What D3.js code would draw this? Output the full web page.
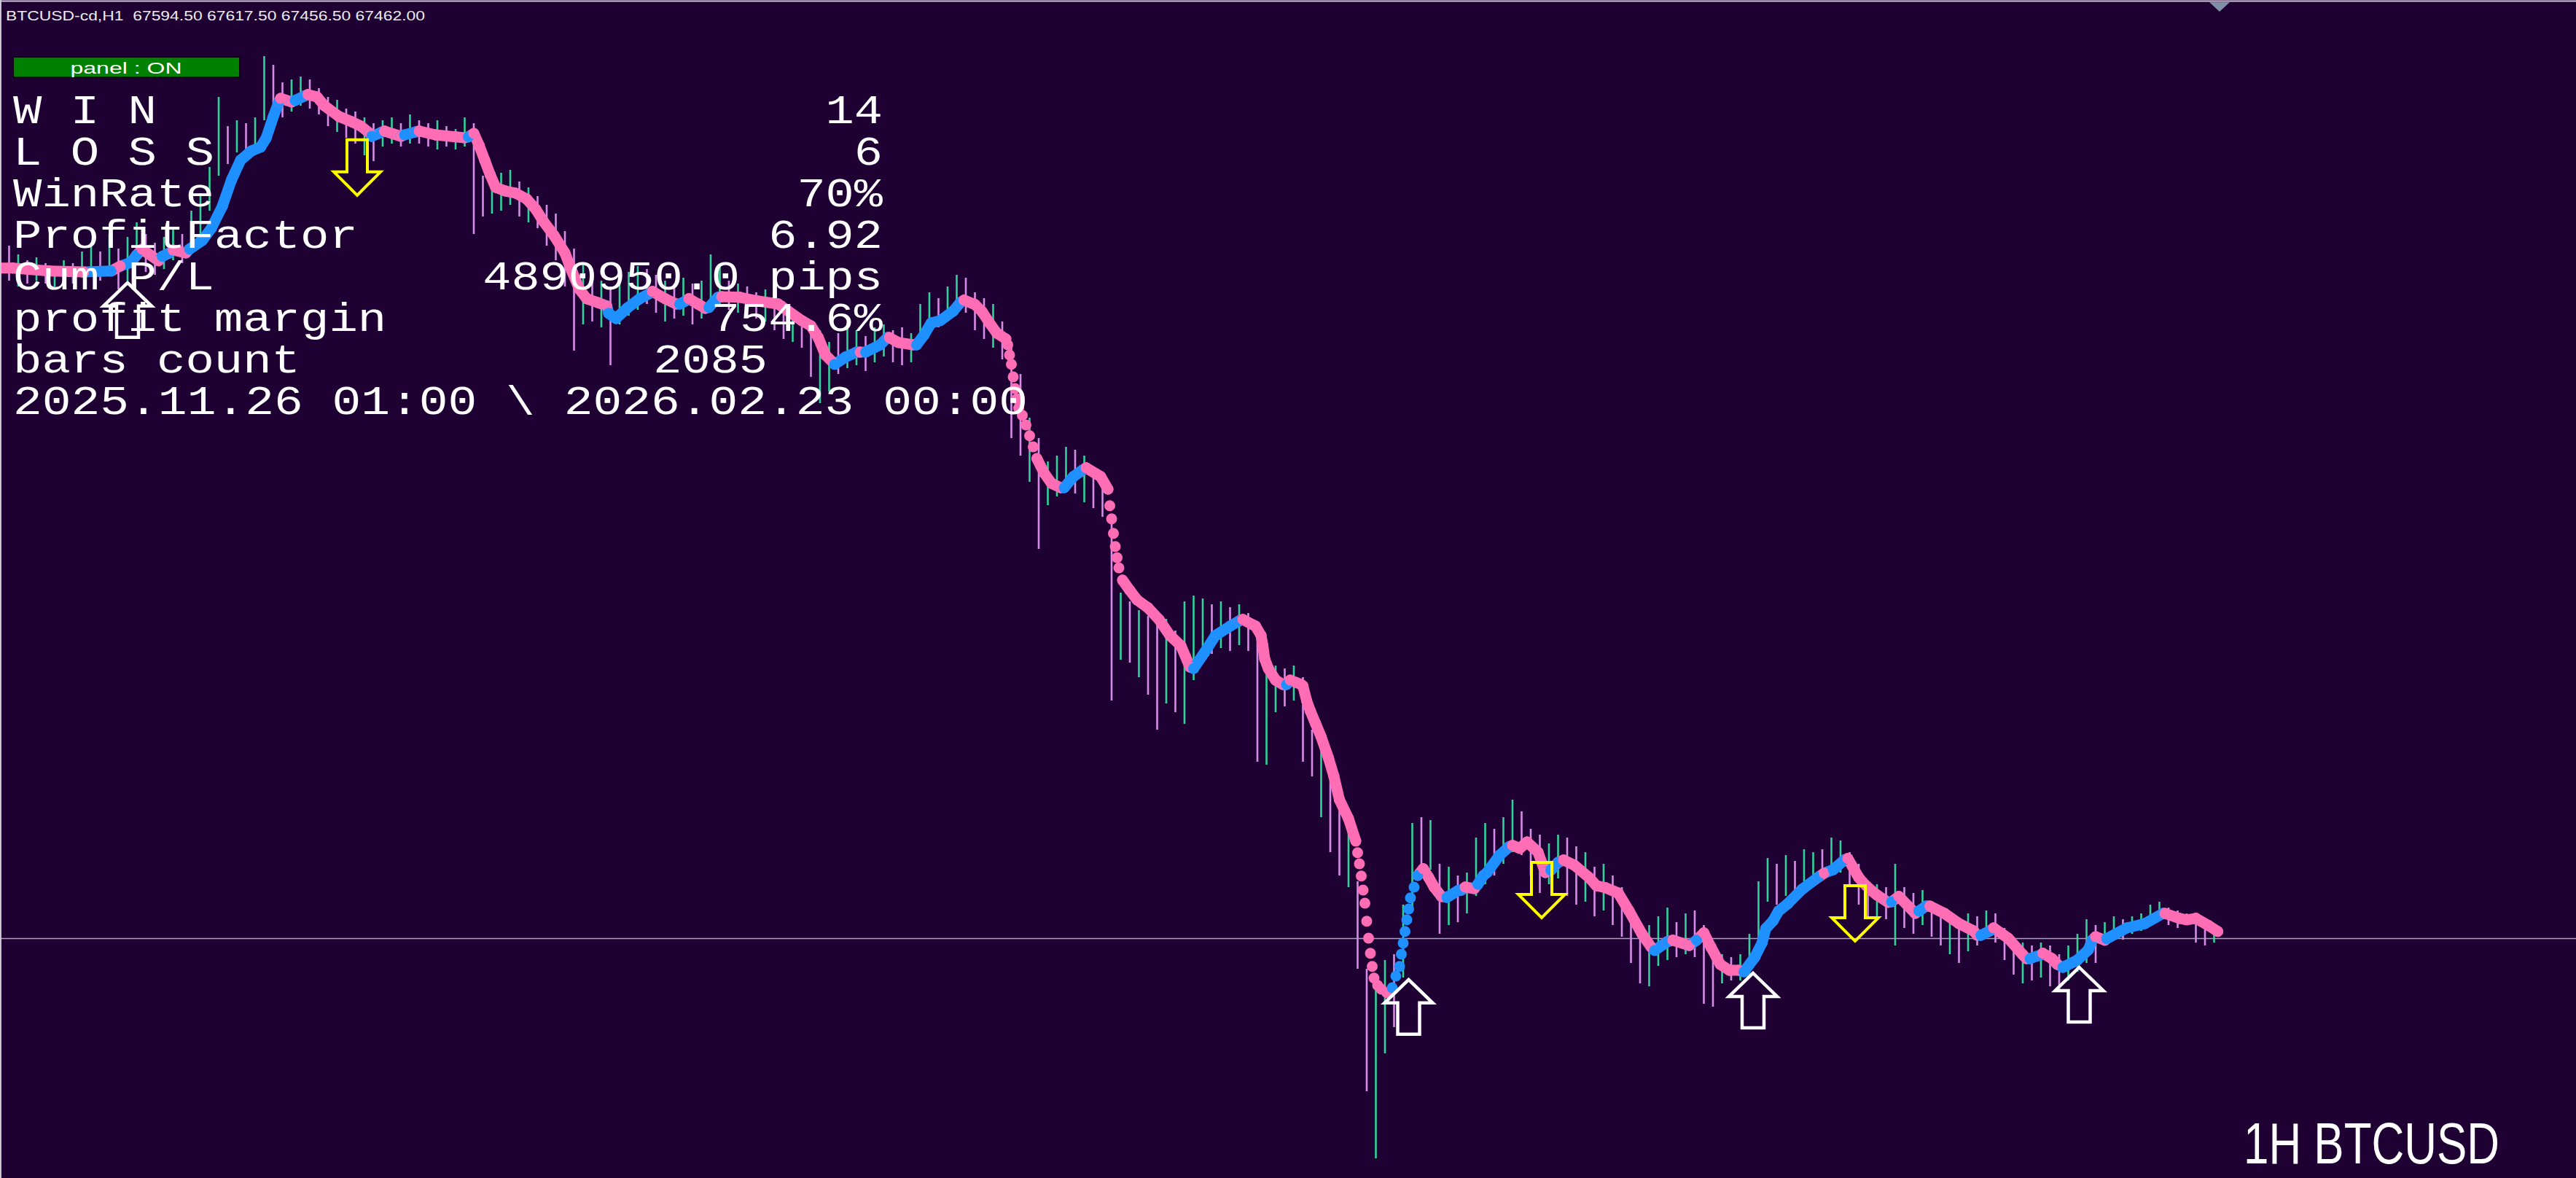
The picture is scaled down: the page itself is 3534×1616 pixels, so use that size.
<!DOCTYPE html>
<html><head><meta charset="utf-8">
<script src="https://cdn.jsdelivr.net/npm/d3@7"></script>
<style>html,body{margin:0;padding:0;background:#1e0033;overflow:hidden}</style>
</head><body>
<script>
// ---------------- DATA ----------------
const symbolLabel = "BTCUSD-cd,H1";
const ohlc = [67594.50, 67617.50, 67456.50, 67462.00];
const bidPrice = 67.462; // k$

const panelState = "panel : ON";
const statLabels = ["W I N", "L O S S", "WinRate", "ProfitFactor", "Cum P/L", "profit margin", "bars count", "2025.11.26 01:00 \\ 2026.02.23 00:00"];
const statValues = ["14", "6", "70%", "6.92", "4890950.0 pips", "754.6%", "2085", ""];
const chartTitle = "1H BTCUSD";

// trend indicator (bar index, price in k$, 1 = up/blue, 0 = down/pink)
const trendBar = [
 0,7,27,46,61,66,72,75,78,87,
 89,93,95,102,104,111,116,122,127,132,
 138,143,146,150,153,154,160,162,167,169,
 174,178,186,193,198,203,204,209,211,220,
 222,228,230,239,250,255,257,260,263,266,
 269,272,277,283,289,294,298,304,310,314,
 318,322,328,333,334,338,344,351,357,358,
 365,371,373,377,378,383,387,389,394,396,
 406,416,427,440,445,449,453,457,458,464,
 470,472,475,483,487,488,493,501,503,507,
 511,516,523,527,529,535,539,543,547,552,
 553,554,555,556,557,558,559,561,563,565,
 567,569,573,577,582,584,589,594,596,604,
 608,609,610,611,612,613,614,616,620,624,
 630,636,642,648,653,655,661,667,675,680,
 682,689,692,693,694,696,700,704,706,708,
 714,715,717,719,722,725,729,732,735,740,
 744,745,746,747,748,749,750,751,752,753,
 754,756,758,761,764,766,768,769,770,771,
 772,773,774,776,778,781,784,787,791,794,
 800,802,804,809,811,814,816,823,828,830,
 834,838,844,848,851,855,858,864,872,876,
 881,888,894,901,906,908,915,918,927,931,
 935,939,944,949,954,957,963,967,969,973,
 976,981,989,998,1001,1006,1012,1014,1020,1022,
 1027,1030,1036,1038,1042,1051,1053,1057,1059,1067,
 1075,1083,1085,1087,1092,1094,1102,1110,1112,1114,
 1120,1121,1126,1129,1132,1140,1146,1148,1150,1155,
 1156,1167,1177,1187,1188,1196,1200,1205,1212,1217];
const trendPrice = [
 90.43,90.43,90.33,90.30,90.33,90.50,90.63,90.88,91.08,90.68,
 90.83,90.95,91.05,90.95,91.08,91.38,91.80,92.55,93.45,94.13,
 94.45,94.58,94.88,95.63,96.13,96.25,96.13,96.18,96.33,96.38,
 96.30,96.00,95.63,95.45,95.30,95.05,94.95,95.08,95.13,94.95,
 95.00,95.10,95.13,95.00,94.93,94.90,94.93,95.05,94.63,94.13,
 93.63,93.20,93.08,93.00,92.80,92.45,92.05,91.55,90.95,90.30,
 89.70,89.38,89.25,89.13,88.88,88.70,89.05,89.38,89.58,89.63,
 89.38,89.20,89.20,89.33,89.38,89.20,89.05,89.08,89.43,89.45,
 89.43,89.30,89.20,88.63,88.45,88.05,87.45,87.20,87.13,87.38,
 87.55,87.55,87.55,87.80,88.05,88.05,87.88,87.80,87.80,88.13,
 88.55,88.63,88.95,89.25,89.33,89.18,88.93,88.55,88.20,88.00,
 87.80,87.45,87.13,86.70,86.30,85.95,85.63,85.38,85.05,84.68,
 84.30,83.90,83.40,83.05,82.90,82.90,83.28,83.50,83.58,83.28,
 82.85,82.28,81.83,81.33,80.88,80.50,80.15,79.73,79.38,79.05,
 78.78,78.38,77.83,77.48,76.75,76.70,77.25,77.83,78.15,78.33,
 78.38,78.15,77.83,77.48,77.03,76.70,76.30,76.15,76.15,76.30,
 76.15,76.10,75.60,75.25,74.80,74.35,73.63,73.00,72.20,71.55,
 70.78,70.38,70.00,69.58,69.10,68.65,68.03,67.45,66.93,66.48,
 66.08,65.83,65.70,65.58,65.75,66.15,66.48,66.90,67.28,67.68,
 68.08,68.45,68.83,69.20,69.60,69.83,69.53,69.20,68.88,68.85,
 69.08,69.10,69.20,69.15,69.30,69.60,69.70,70.30,70.58,70.63,
 70.53,70.75,70.40,69.70,69.78,70.05,70.13,69.95,69.53,69.25,
 69.18,69.00,68.38,67.60,67.15,67.03,67.33,67.38,67.20,67.38,
 67.63,67.13,66.55,66.35,66.35,66.30,66.80,67.30,67.78,68.05,
 68.38,68.63,69.13,69.55,69.68,69.80,70.13,70.18,69.53,69.38,
 69.08,68.93,68.68,68.70,68.88,68.30,68.38,68.55,68.55,68.30,
 67.95,67.70,67.55,67.55,67.70,67.80,67.45,66.88,66.75,66.75,
 66.88,66.93,66.75,66.55,66.45,66.70,67.05,67.38,67.50,67.38,
 67.43,67.80,67.95,68.30,68.30,68.13,68.08,68.13,67.88,67.68];
const trendDir = [
 0,0,0,0,1,0,1,1,0,0,
 1,1,0,0,1,1,1,1,1,1,
 1,1,1,1,1,0,0,1,1,0,
 0,0,0,0,0,0,1,1,0,0,
 1,1,0,0,0,0,1,0,0,0,
 0,0,0,0,0,0,0,0,0,0,
 0,0,0,0,1,1,1,1,1,0,
 0,0,1,1,0,0,0,1,1,0,
 0,0,0,0,0,0,0,0,1,1,
 1,0,1,1,1,0,0,0,1,1,
 1,1,1,1,0,0,0,0,0,0,
 0,0,0,0,0,0,0,0,0,0,
 0,0,0,0,0,1,1,1,0,0,
 0,0,0,0,0,0,0,0,0,0,
 0,0,0,0,0,1,1,1,1,1,
 0,0,0,0,0,0,0,0,1,0,
 0,0,0,0,0,0,0,0,0,0,
 0,0,0,0,0,0,0,0,0,0,
 0,0,0,0,1,1,1,1,1,1,
 1,1,1,1,1,0,0,0,0,1,
 1,1,0,0,1,1,1,1,1,0,
 0,0,0,0,1,1,0,0,0,0,
 0,0,0,0,0,1,1,0,0,1,
 0,0,0,0,0,1,1,1,1,1,
 1,1,1,1,0,1,1,0,0,0,
 0,0,0,1,0,0,1,1,0,0,
 0,0,0,1,1,0,0,0,0,1,
 1,0,0,0,1,1,1,1,0,0,
 1,1,1,1,0,0,0,0,0,0];
// bar spans where the indicator moved faster than one dot per bar (separate dots)
const dotRuns = [[552,569],[608,616],[744,778]];

// hourly candles, one every 5 bars (k$)
const candleStart = 0, candleStep = 5;
const candleHigh = [
 91.7,91.2,90.9,90.7,90.8,90.6,90.5,90.7,90.6,91.0,
 91.3,91.0,91.6,91.1,91.5,92.0,91.6,91.3,91.5,91.8,
 91.6,92.4,93.0,93.9,96.3,95.3,95.5,95.4,95.6,97.7,
 97.4,96.8,96.9,97.0,96.9,96.6,96.3,96.2,95.9,95.8,
 95.6,95.4,95.5,95.6,95.4,95.7,95.5,95.4,95.5,95.3,
 95.2,95.6,95.4,93.6,93.5,93.7,93.8,93.4,93.2,92.9,
 92.6,92.3,91.7,91.1,90.6,90.2,90.0,89.8,90.1,90.3,
 90.5,90.4,90.2,90.0,89.9,90.1,89.9,90.0,90.9,90.5,
 90.0,89.9,89.8,89.6,89.7,89.5,89.3,89.0,88.8,88.6,
 88.3,87.9,88.2,88.4,88.3,88.1,88.4,88.5,88.3,88.4,
 88.2,89.2,89.6,89.4,89.8,90.2,90.1,89.6,89.4,89.2,
 88.6,87.9,86.8,85.3,84.6,83.8,84.0,84.3,84.2,84.0,
 83.6,83.3,82.0,79.3,79.0,78.7,78.5,78.2,78.4,78.0,
 79.0,79.2,79.1,78.9,79.0,78.8,78.9,78.6,78.2,77.2,
 76.8,76.7,76.8,76.4,74.6,73.9,73.1,72.4,71.8,69.4,
 66.4,65.7,66.7,66.9,68.6,71.4,71.6,71.5,70.0,69.9,
 69.6,69.7,70.9,71.4,71.2,71.6,72.2,71.8,71.2,71.0,
 70.7,71.0,70.9,70.6,70.4,69.9,70.0,69.6,69.2,68.4,
 68.0,67.9,68.2,68.5,68.0,68.3,68.4,67.9,67.0,66.9,
 66.8,66.9,67.6,69.4,70.2,70.0,70.3,70.1,70.5,70.4,
 70.5,70.9,70.8,70.4,70.0,69.4,69.3,69.2,70.0,69.2,
 69.0,69.1,68.7,68.4,68.3,68.1,68.3,68.2,68.4,68.3,
 67.8,67.5,67.3,67.2,67.3,67.2,66.9,67.2,67.6,68.1,
 67.9,68.0,68.2,68.1,68.2,68.3,68.6,68.7,68.5,68.4,
 68.3,68.2,68.0,67.9];
const candleLow = [
 89.6,90.0,89.8,89.9,90.0,89.9,89.8,90.0,89.9,90.1,
 90.2,90.0,90.4,89.7,90.0,90.6,90.3,90.2,90.4,90.7,
 90.6,91.0,91.6,92.4,93.6,94.0,94.4,94.5,94.6,95.5,
 95.9,95.6,95.8,96.0,95.9,95.7,95.3,95.1,94.9,94.7,
 94.3,94.1,94.6,94.7,94.6,94.7,94.7,94.6,94.5,94.6,
 94.5,94.6,91.6,92.2,92.3,92.4,92.6,92.2,92.0,91.8,
 91.2,90.7,89.8,87.6,88.5,88.6,88.4,87.1,88.5,88.8,
 89.0,89.2,88.9,88.6,88.7,88.8,88.5,88.7,89.0,89.2,
 89.0,88.9,88.8,88.7,88.6,88.3,88.0,87.9,87.7,86.7,
 85.8,86.2,86.8,87.0,87.1,86.9,87.2,87.4,87.2,87.1,
 87.2,87.8,88.2,88.4,88.6,89.0,88.9,88.3,88.0,87.7,
 87.3,84.6,84.0,83.1,80.8,82.3,82.6,82.9,82.7,82.4,
 82.2,81.9,75.6,77.0,76.9,76.4,75.8,74.6,75.5,75.2,
 74.8,76.3,77.3,77.2,77.4,77.3,77.5,77.3,73.5,73.4,
 75.2,75.4,75.6,73.5,73.0,71.6,70.4,69.6,69.2,66.4,
 62.2,59.9,63.5,64.4,66.1,68.5,69.7,69.8,67.6,67.9,
 68.0,68.3,68.9,69.3,69.6,70.0,70.4,70.3,69.6,69.0,
 69.3,69.5,68.9,68.6,68.7,68.2,68.4,67.9,67.5,66.6,
 65.9,65.8,66.5,66.7,66.8,66.9,66.8,65.2,65.1,65.9,
 66.0,66.0,66.2,66.8,68.7,68.6,68.9,69.0,69.4,69.5,
 69.6,69.8,69.7,69.2,68.6,68.2,68.2,68.1,67.2,67.8,
 67.6,67.9,67.5,67.2,66.9,66.6,67.0,67.2,67.5,67.3,
 66.7,66.2,65.9,66.0,66.1,65.8,65.7,66.0,66.3,66.6,
 66.6,67.3,67.5,67.4,67.6,67.7,67.9,68.1,67.9,67.8,
 67.9,67.3,67.2,67.3];
const candleUp = [
 1,0,1,0,1,0,1,1,0,1,
 1,0,1,0,1,1,0,0,1,1,
 0,1,1,1,1,0,1,0,1,1,
 0,0,1,1,0,0,0,1,0,0,
 1,0,1,1,0,1,0,0,1,0,
 1,1,0,0,1,1,1,0,1,0,
 0,0,0,0,1,0,1,0,1,1,
 1,0,0,1,0,1,0,1,1,1,
 0,1,0,0,1,0,0,1,0,0,
 1,1,0,1,1,0,1,1,0,0,
 1,1,1,0,1,1,0,0,0,1,
 0,0,0,1,0,1,1,1,0,1,
 0,0,0,1,0,1,0,0,1,0,
 1,1,1,0,1,0,1,0,0,1,
 1,0,1,0,0,1,0,0,1,0,
 0,1,1,0,1,1,0,1,0,1,
 0,1,1,1,0,1,1,0,0,0,
 1,1,0,0,1,0,1,0,0,0,
 0,1,1,1,0,1,0,0,0,1,
 0,1,1,1,1,0,1,0,1,1,
 0,1,1,0,0,0,1,0,1,0,
 0,1,0,0,1,0,1,0,1,0,
 0,0,1,0,1,0,0,1,1,1,
 0,1,1,0,1,1,1,1,0,0,
 1,0,0,1];

// signal arrows (bar, price in k$)
const buyBar = [70, 773, 962, 1141];
const buyPrice = [89.93, 66.03, 66.25, 66.45];
const sellBar = [196, 846, 1018];
const sellPrice = [94.83, 70.05, 69.25];

// ---------------- DRAW ----------------
const W = 3534, H = 1616;
const BG = "#1e0033";
const x = d3.scaleLinear().domain([0, 1220]).range([0, 3050]);
const y = d3.scaleLinear().domain([60, 97.55]).range([1585, 83]);

const svg = d3.select("body").append("svg").attr("width", W).attr("height", H);
svg.append("rect").attr("width", W).attr("height", H).attr("fill", BG);

// candles
const candles = candleHigh.map((h, i) => ({ bar: candleStart + i * candleStep, h, l: candleLow[i], up: candleUp[i] }));
svg.append("g").selectAll("line").data(candles).join("line")
  .attr("x1", d => x(d.bar)).attr("x2", d => x(d.bar))
  .attr("y1", d => y(d.h)).attr("y2", d => y(d.l))
  .attr("stroke", d => d.up ? "#2fd39a" : "#d68ce6")
  .attr("stroke-width", 2.6);

// bid line
svg.append("line").attr("x1", 0).attr("x2", W)
  .attr("y1", Math.round(y(bidPrice)) + 0.5).attr("y2", Math.round(y(bidPrice)) + 0.5)
  .attr("stroke", "#a9a2b8").attr("stroke-width", 1.5);

// trend indicator
const UP = "#1e90ff", DN = "#ff6eb4";
const pts = trendBar.map((b, i) => ({ b, p: trendPrice[i], d: trendDir[i] }));
const runIdx = b => dotRuns.findIndex(r => b >= r[0] && b <= r[1]);
const segs = [];
for (let i = 0; i < pts.length - 1; i++) {
  const a = pts[i], c = pts[i + 1];
  const ra = runIdx(a.b), rc = runIdx(c.b);
  if (ra >= 0 && ra === rc) continue;
  segs.push({ a, c, d: c.d });
}
const gT = svg.append("g");
gT.selectAll("line").data(segs).join("line")
  .attr("x1", s => x(s.a.b)).attr("y1", s => y(s.a.p))
  .attr("x2", s => x(s.c.b)).attr("y2", s => y(s.c.p))
  .attr("stroke", s => s.d ? UP : DN)
  .attr("stroke-width", 15).attr("stroke-linecap", "round");
gT.selectAll("circle").data(pts).join("circle")
  .attr("cx", d => x(d.b)).attr("cy", d => y(d.p)).attr("r", 7.5)
  .attr("fill", d => d.d ? UP : DN);

// arrows
const upShape = [[0,0],[33,32],[15,32],[15,75],[-15,75],[-15,32],[-33,32]];
const dnShape = [[-14,0],[14,0],[14,44],[32,44],[0,76],[-32,44],[-14,44]];
const poly = (shape, cx, cy) => "M" + shape.map(p => (cx + p[0]) + "," + (cy + p[1])).join("L") + "Z";
svg.append("g").selectAll("path").data(buyBar.map((b, i) => ({ b, p: buyPrice[i] }))).join("path")
  .attr("d", d => poly(upShape, x(d.b), y(d.p)))
  .attr("fill", "none").attr("stroke", "#ffffff").attr("stroke-width", 4.5).attr("stroke-linejoin", "miter");
svg.append("g").selectAll("path").data(sellBar.map((b, i) => ({ b, p: sellPrice[i] }))).join("path")
  .attr("d", d => poly(dnShape, x(d.b), y(d.p)))
  .attr("fill", "none").attr("stroke", "#ffff00").attr("stroke-width", 4).attr("stroke-linejoin", "miter");

// window frame
svg.append("line").attr("x1", 0).attr("x2", W).attr("y1", 1.5).attr("y2", 1.5).attr("stroke", "#c9c6d2").attr("stroke-width", 2);
svg.append("line").attr("x1", 1).attr("x2", 1).attr("y1", 0).attr("y2", H).attr("stroke", "#c9c6d2").attr("stroke-width", 2);
svg.append("path").attr("d", "M3031,3L3059,3L3045,16Z").attr("fill", "#7f8fa8");

const narrow = "'Liberation Sans Narrow','Arial Narrow','Liberation Sans',sans-serif";
const mono = "'Liberation Mono','DejaVu Sans Mono',monospace";

// header
svg.append("text").attr("x", 8).attr("y", 28)
  .attr("font-family", narrow).attr("font-size", 19).attr("fill", "#ececec")
  .style("white-space", "pre")
  .attr("textLength", 575).attr("lengthAdjust", "spacingAndGlyphs")
  .text(symbolLabel + "  " + ohlc.map(v => v.toFixed(2)).join(" "));

// panel button
svg.append("rect").attr("x", 18).attr("y", 78).attr("width", 311).attr("height", 28)
  .attr("fill", "#008000").attr("stroke", "#0a0a0a").attr("stroke-width", 2);
svg.append("text").attr("x", 173).attr("y", 101).attr("text-anchor", "middle")
  .attr("font-family", narrow).attr("font-size", 22).attr("fill", "#ffffff")
  .attr("textLength", 153).attr("lengthAdjust", "spacingAndGlyphs")
  .text(panelState);

// stats
const rowY = i => 169 + i * 57;
const gS = svg.append("g").attr("font-family", mono).attr("font-size", 56).attr("fill", "#ffffff");
statLabels.forEach((t, i) => {
  const w = (i === statLabels.length - 1) ? 1392 : t.length * 39.4;
  gS.append("text").attr("x", 18).attr("y", rowY(i)).style("white-space", "pre")
    .attr("textLength", w).attr("lengthAdjust", "spacingAndGlyphs").text(t);
});
statValues.forEach((t, i) => {
  if (!t) return;
  const right = (i === 6) ? 1053 : 1211;
  gS.append("text").attr("x", right).attr("y", rowY(i)).attr("text-anchor", "end").style("white-space", "pre")
    .attr("textLength", t.length * 39.2).attr("lengthAdjust", "spacingAndGlyphs").text(t);
});

// chart title
svg.append("text").attr("x", 3078).attr("y", 1596)
  .attr("font-family", narrow).attr("font-size", 80).attr("fill", "#ffffff")
  .attr("textLength", 351).attr("lengthAdjust", "spacingAndGlyphs")
  .text(chartTitle);
</script>
</body></html>
